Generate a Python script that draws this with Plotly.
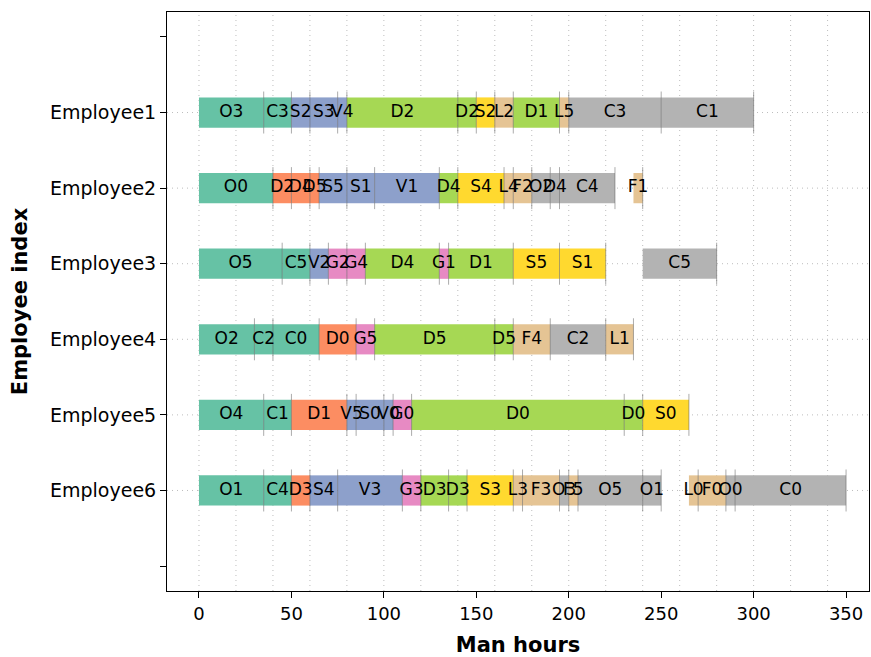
import plotly.graph_objects as go

# ---- data ----
employees = ["Employee1", "Employee2", "Employee3", "Employee4", "Employee5", "Employee6"]

# phase -> colour (Set2 palette)
phase_colors = ["#66c2a5", "#fc8d62", "#8da0cb", "#e78ac3",
                "#a6d854", "#ffd92f", "#e5c494", "#b3b3b3"]

# each segment: (label, start, end, phase)
emp1 = [("O3", 0, 35, 0), ("C3", 35, 50, 0), ("S2", 50, 60, 2), ("S3", 60, 75, 2),
        ("V4", 75, 80, 2), ("D2", 80, 140, 4), ("D2", 140, 150, 4), ("S2", 150, 160, 5),
        ("L2", 160, 170, 6), ("D1", 170, 195, 4), ("L5", 195, 200, 6), ("C3", 200, 250, 7),
        ("C1", 250, 300, 7)]
emp2 = [("O0", 0, 40, 0), ("D2", 40, 50, 1), ("D4", 50, 60, 1), ("D5", 60, 65, 1),
        ("S5", 65, 80, 2), ("S1", 80, 95, 2), ("V1", 95, 130, 2), ("D4", 130, 140, 4),
        ("S4", 140, 165, 5), ("L4", 165, 170, 6), ("F2", 170, 180, 6), ("O2", 180, 190, 7),
        ("D4", 190, 195, 7), ("C4", 195, 225, 7), ("F1", 235, 240, 6)]
emp3 = [("O5", 0, 45, 0), ("C5", 45, 60, 0), ("V2", 60, 70, 2), ("G2", 70, 80, 3),
        ("G4", 80, 90, 3), ("D4", 90, 130, 4), ("G1", 130, 135, 3), ("D1", 135, 170, 4),
        ("S5", 170, 195, 5), ("S1", 195, 220, 5), ("C5", 240, 280, 7)]
emp4 = [("O2", 0, 30, 0), ("C2", 30, 40, 0), ("C0", 40, 65, 0), ("D0", 65, 85, 1),
        ("G5", 85, 95, 3), ("D5", 95, 160, 4), ("D5", 160, 170, 4), ("F4", 170, 190, 6),
        ("C2", 190, 220, 7), ("L1", 220, 235, 6)]
emp5 = [("O4", 0, 35, 0), ("C1", 35, 50, 0), ("D1", 50, 80, 1), ("V5", 80, 85, 2),
        ("S0", 85, 100, 2), ("V0", 100, 105, 2), ("G0", 105, 115, 3), ("D0", 115, 230, 4),
        ("D0", 230, 240, 4), ("S0", 240, 265, 5)]
emp6 = [("O1", 0, 35, 0), ("C4", 35, 50, 0), ("D3", 50, 60, 1), ("S4", 60, 75, 2),
        ("V3", 75, 110, 2), ("G3", 110, 120, 3), ("D3", 120, 135, 4), ("D3", 135, 145, 4),
        ("S3", 145, 170, 5), ("L3", 170, 175, 6), ("F3", 175, 195, 6), ("O3", 195, 200, 7),
        ("F5", 200, 205, 6), ("O5", 205, 240, 7), ("O1", 240, 250, 7), ("L0", 265, 270, 6),
        ("F0", 270, 285, 6), ("O0", 285, 290, 7), ("C0", 290, 350, 7)]

schedules = [emp1, emp2, emp3, emp4, emp5, emp6]
x_ticks = [0, 50, 100, 150, 200, 250, 300, 350]

# ---- build ----
ys, bases, widths, colors, labels, centers, ends = [], [], [], [], [], [], []
for i, sched in enumerate(schedules, start=1):
    for lab, s, e, p in sched:
        ys.append(i)
        bases.append(s)
        widths.append(e - s)
        colors.append(phase_colors[p])
        labels.append(lab)
        centers.append((s + e) / 2)
        ends.append(e)

FONT = "DejaVu Sans"
fig = go.Figure()
fig.add_trace(go.Bar(
    orientation="h", y=ys, x=widths, base=bases, width=0.4,
    marker=dict(color=colors, line=dict(width=0)),
    hoverinfo="skip", showlegend=False,
))
# thin separators at segment ends
fig.add_trace(go.Scatter(
    x=ends, y=ys, mode="markers",
    marker=dict(symbol="line-ns", size=30, line=dict(width=1, color="rgba(90,90,90,0.5)")),
    hoverinfo="skip", showlegend=False,
))
fig.add_trace(go.Scatter(
    x=centers, y=ys, mode="text", text=labels,
    textfont=dict(family=FONT, size=17, color="black"),
    textposition="middle center", cliponaxis=False,
    hoverinfo="skip", showlegend=False,
))

shapes = []
for gx in range(0, 341, 20):
    shapes.append(dict(type="line", xref="x", yref="paper", x0=gx, x1=gx, y0=0, y1=1,
                       line=dict(color="#bdbdbd", width=1, dash="1px,4px"), layer="below"))
for gy in range(1, len(employees) + 1):
    shapes.append(dict(type="line", xref="paper", yref="y", x0=0, x1=1, y0=gy, y1=gy,
                       line=dict(color="#bdbdbd", width=1, dash="1px,4px"), layer="below"))

fig.update_layout(
    width=871, height=657,
    margin=dict(l=167, r=2, t=12, b=66),
    plot_bgcolor="white", paper_bgcolor="white",
    barmode="overlay",
    font=dict(family=FONT, size=18, color="black"),
    shapes=shapes,
    xaxis=dict(
        range=[-17.3, 362.4], tickvals=x_ticks, ticktext=[str(v) for v in x_ticks],
        showgrid=False, zeroline=False, showline=True, linecolor="black", linewidth=1,
        mirror=True, ticks="outside", ticklen=6, tickcolor="black", automargin=False,
        tickfont=dict(family=FONT, size=18),
        title=dict(text="<b>Man hours</b>", font=dict(family=FONT, size=21), standoff=14),
    ),
    yaxis=dict(
        range=[7.33, -0.33], tickvals=list(range(0, len(employees) + 2)),
        ticktext=[""] + employees + [""],
        showgrid=False, zeroline=False, showline=True, linecolor="black", linewidth=1,
        mirror=True, ticks="outside", ticklen=6, tickcolor="black", automargin=False,
        tickfont=dict(family=FONT, size=19),
        title=dict(text="<b>Employee index</b>", font=dict(family=FONT, size=21), standoff=16),
    ),
)
fig.write_html("out.html", config={"displayModeBar": False},
               post_script="document.body.style.margin='0';document.body.style.overflow='hidden';")
